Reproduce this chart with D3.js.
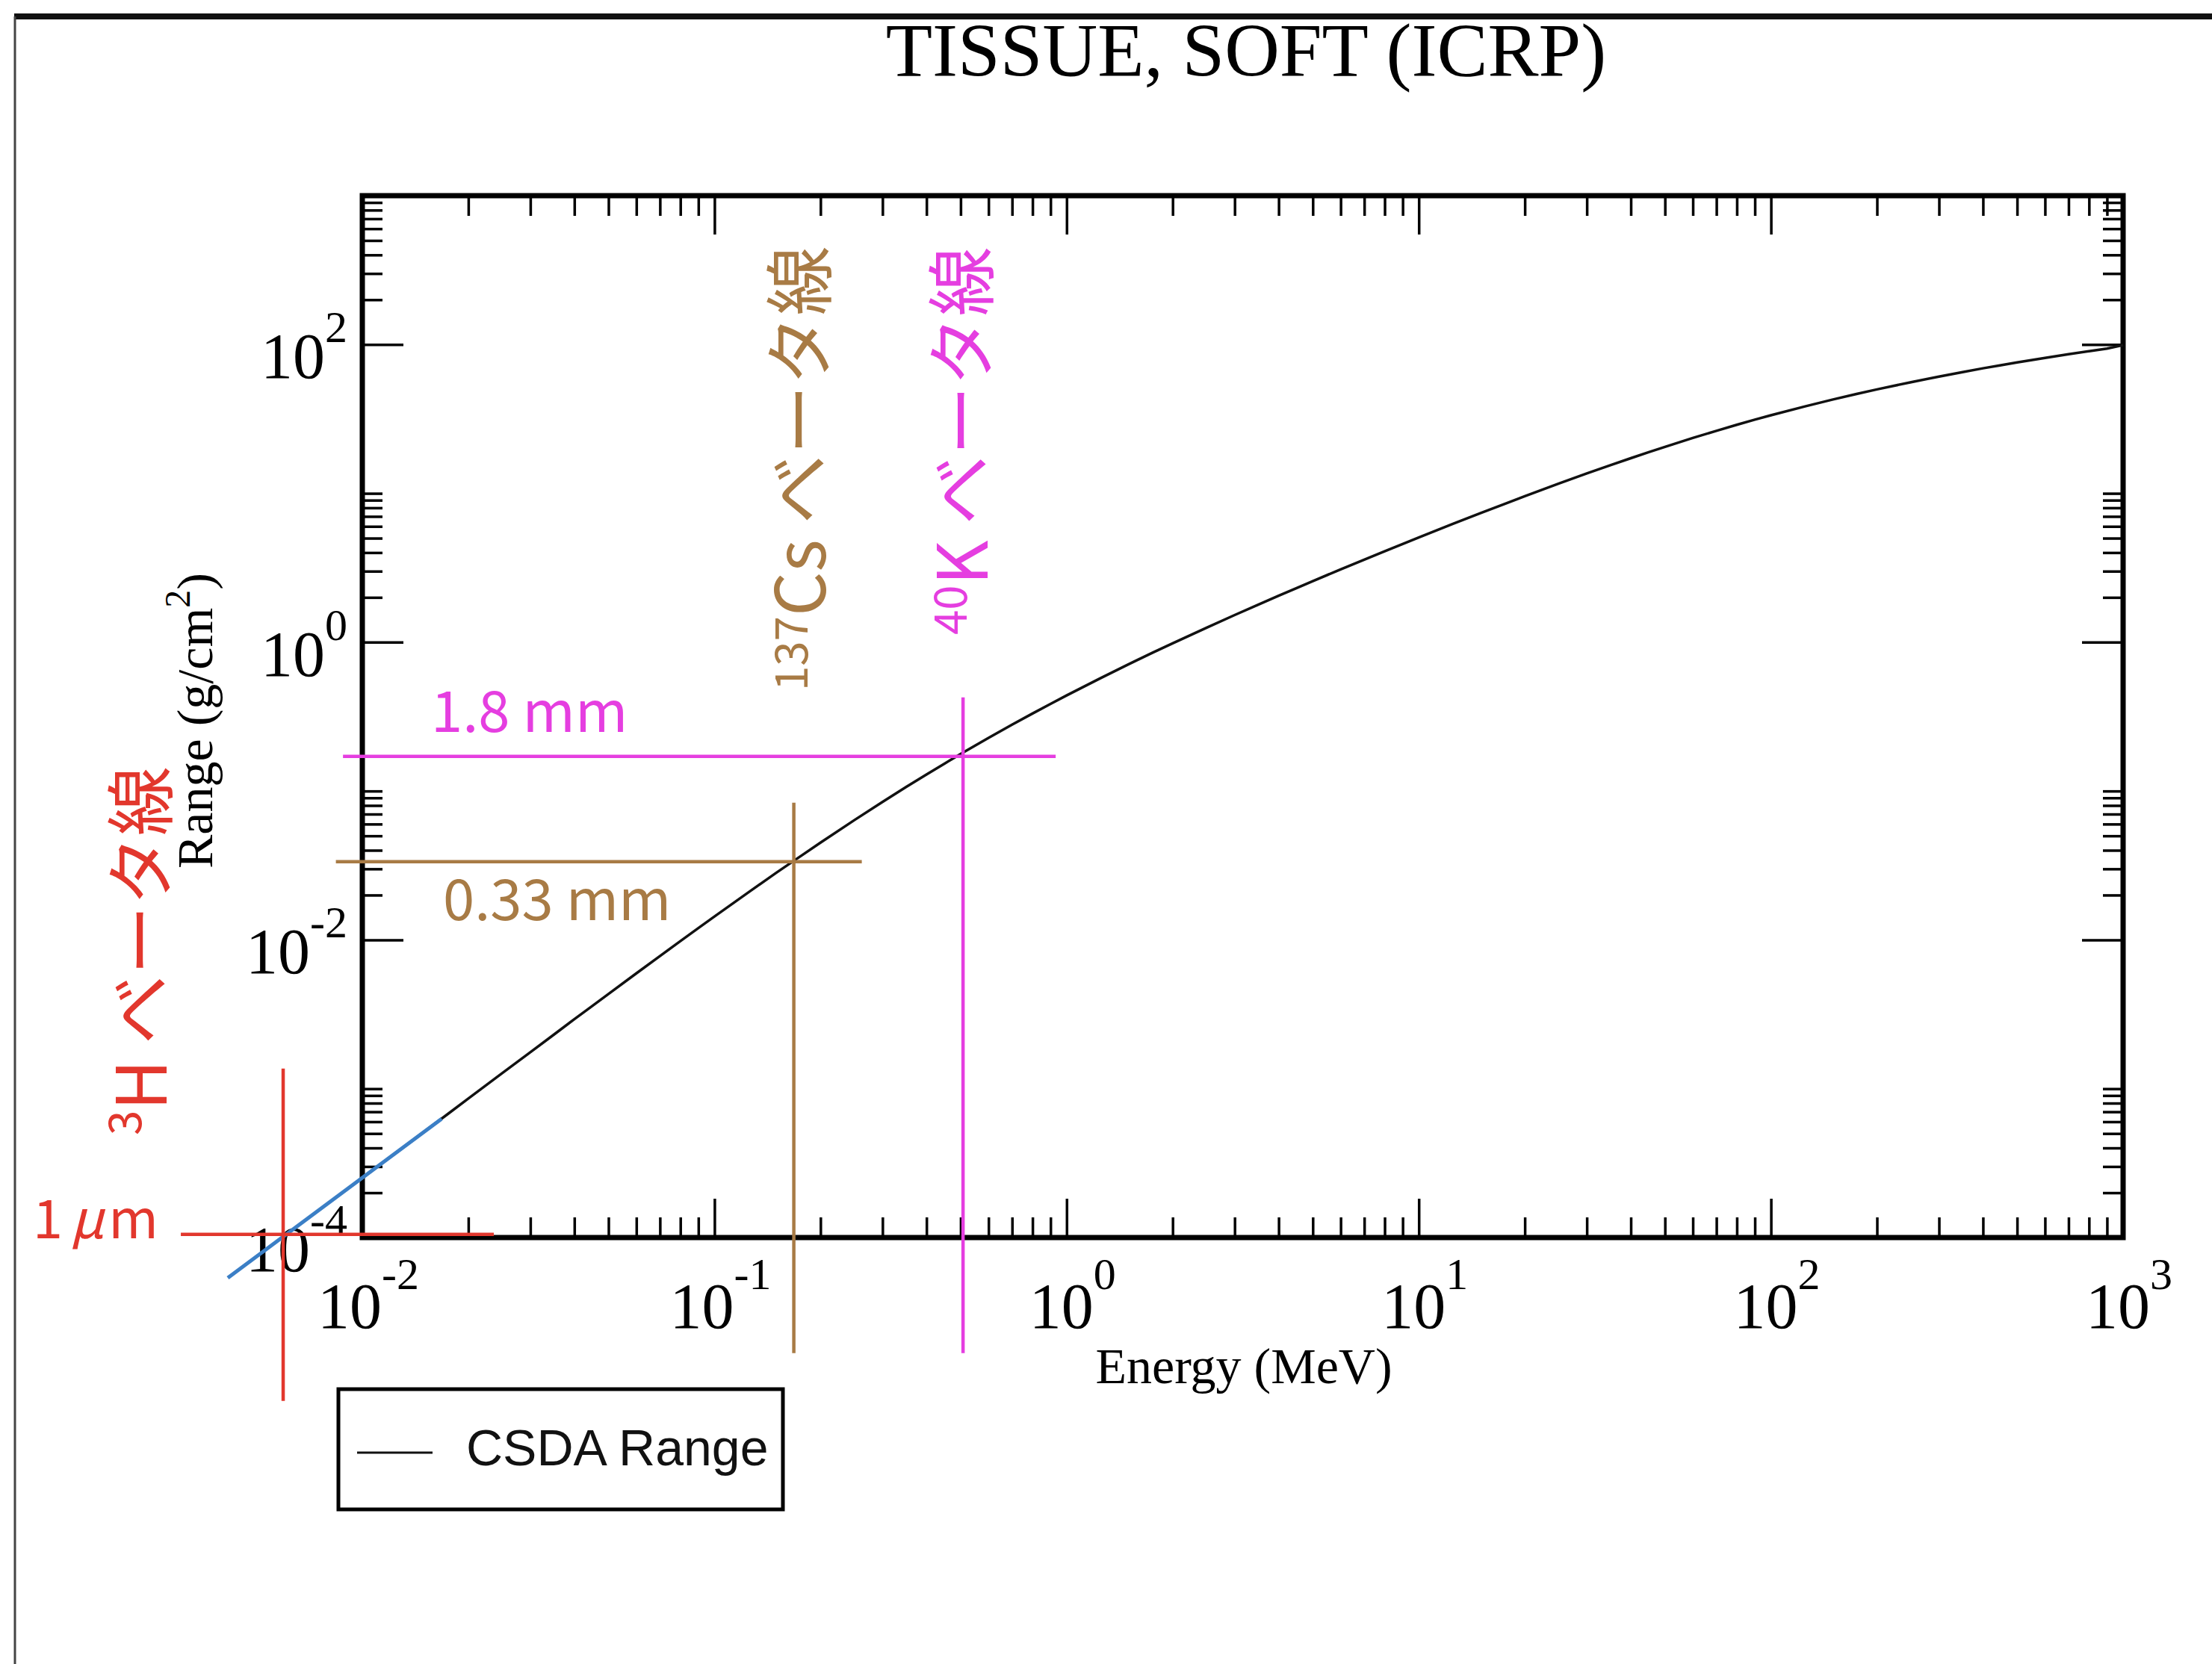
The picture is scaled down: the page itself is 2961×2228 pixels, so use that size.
<!DOCTYPE html>
<html>
<head>
<meta charset="utf-8">
<script src="https://cdn.jsdelivr.net/npm/d3@7"></script>
<style>
  body { margin: 0; background: #fff; }
  svg { display: block; }
</style>
</head>
<body>
<svg width="2961" height="2228"></svg>
<script>
// CSDA range of electrons in soft tissue (ICRP)
var energy = [0.01, 0.0125, 0.015, 0.0175, 0.02, 0.025, 0.03, 0.035, 0.04, 0.045, 0.05,
  0.06, 0.07, 0.08, 0.09, 0.1, 0.125, 0.15, 0.175, 0.2, 0.25, 0.3, 0.35, 0.4, 0.45, 0.5,
  0.6, 0.7, 0.8, 0.9, 1, 1.25, 1.5, 1.75, 2, 2.5, 3, 3.5, 4, 4.5, 5,
  6, 7, 8, 9, 10, 12.5, 15, 17.5, 20, 25, 30, 35, 40, 45, 50,
  60, 70, 80, 90, 100, 125, 150, 175, 200, 250, 300, 350, 400, 450, 500,
  600, 700, 800, 900, 1000];
var csdaRange = [2.52e-4, 3.73e-4, 5.15e-4, 6.77e-4, 8.59e-4, 1.276e-3, 1.76e-3, 2.31e-3, 2.93e-3, 3.60e-3, 4.33e-3,
  5.96e-3, 7.79e-3, 9.80e-3, 1.20e-2, 1.435e-2, 2.09e-2, 2.83e-2, 3.63e-2, 4.50e-2, 6.39e-2, 8.45e-2, 0.1064, 0.1293, 0.1529, 0.1773,
  0.2275, 0.2790, 0.3317, 0.3850, 0.4388, 0.5745, 0.7110, 0.8474, 0.9834, 1.253, 1.522, 1.787, 2.051, 2.313, 2.572,
  3.085, 3.587, 4.083, 4.573, 5.055, 6.235, 7.378, 8.488, 9.568, 11.64, 13.60, 15.46, 17.23, 18.92, 20.53,
  23.55, 26.32, 28.88, 31.26, 33.48, 38.42, 42.73, 46.54, 49.95, 55.87, 60.92, 65.31, 69.20, 72.67, 75.82,
  81.33, 86.04, 90.15, 93.79, 99.0];

// hand-drawn extrapolation below 10 keV (blue)
var extEnergy = [0.00415, 0.0168];
var extRange = [5.36e-5, 6.28e-4];

// beta-ray markers: nuclide, energy (MeV), range (g/cm2), range label
var markerNuclide = ["3H", "137Cs", "40K"];
var markerEnergy = [0.00596, 0.168, 0.508];
var markerRange = [1.05e-4, 0.0335, 0.171];
var markerLabel = ["1\u03bcm", "0.33 mm", "1.8 mm"];

// tick labels (powers of ten)
var xExponents = ["-2", "-1", "0", "1", "2", "3"];
var yExponents = ["-4", "-2", "0", "2"];

var svg = d3.select("svg");
var pLeft = 485, pRight = 2842, pTop = 262, pBottom = 1657;

var x = d3.scaleLog().domain([1e-2, 1e3]).range([pLeft, pRight]);
var y = d3.scaleLog().domain([1e-4, 1e3]).range([pBottom, pTop]);

// outer frame of the figure
svg.append("line").attr("x1", 19).attr("x2", 2961).attr("y1", 22).attr("y2", 22)
  .attr("stroke", "#111").attr("stroke-width", 8);
svg.append("line").attr("x1", 20).attr("x2", 20).attr("y1", 22).attr("y2", 2228)
  .attr("stroke", "#444").attr("stroke-width", 3);

// title
svg.append("text").attr("x", 1668).attr("y", 102).attr("text-anchor", "middle")
  .style("font-family", "Liberation Serif").style("font-size", "102px")
  .text("TISSUE, SOFT (ICRP)");

// ticks
var xMajor = xExponents.map(function(e){ return Math.pow(10, +e) });
var xMinor = [];
d3.range(-2, 3).forEach(function(d){
  d3.range(2, 10).forEach(function(k){ xMinor.push(k * Math.pow(10, d)) });
});
var yMajor = yExponents.map(function(e){ return Math.pow(10, +e) });
var yMinor = [];
yMajor.forEach(function(v){
  d3.range(2, 11).forEach(function(k){ yMinor.push(k * v) });
});

function styleAxis(g) {
  g.select(".domain").remove();
  g.selectAll(".tick line").attr("stroke", "#000").attr("stroke-width", 3.5);
}

svg.append("g").attr("transform", "translate(0," + pBottom + ")")
  .call(d3.axisBottom(x).tickValues(xMajor).tickSize(-52).tickFormat(""))
  .call(styleAxis);
svg.append("g").attr("transform", "translate(0," + pBottom + ")")
  .call(d3.axisBottom(x).tickValues(xMinor).tickSize(-27).tickFormat(""))
  .call(styleAxis);
svg.append("g").attr("transform", "translate(0," + pTop + ")")
  .call(d3.axisTop(x).tickValues(xMajor).tickSize(-52).tickFormat(""))
  .call(styleAxis);
svg.append("g").attr("transform", "translate(0," + pTop + ")")
  .call(d3.axisTop(x).tickValues(xMinor).tickSize(-27).tickFormat(""))
  .call(styleAxis);
svg.append("g").attr("transform", "translate(" + pLeft + ",0)")
  .call(d3.axisLeft(y).tickValues(yMajor).tickSize(-55).tickFormat(""))
  .call(styleAxis);
svg.append("g").attr("transform", "translate(" + pLeft + ",0)")
  .call(d3.axisLeft(y).tickValues(yMinor).tickSize(-27).tickFormat(""))
  .call(styleAxis);
svg.append("g").attr("transform", "translate(" + pRight + ",0)")
  .call(d3.axisRight(y).tickValues(yMajor).tickSize(-55).tickFormat(""))
  .call(styleAxis);
svg.append("g").attr("transform", "translate(" + pRight + ",0)")
  .call(d3.axisRight(y).tickValues(yMinor).tickSize(-27).tickFormat(""))
  .call(styleAxis);

// plot frame
svg.append("rect").attr("x", pLeft).attr("y", pTop)
  .attr("width", pRight - pLeft).attr("height", pBottom - pTop)
  .attr("fill", "none").attr("stroke", "#000").attr("stroke-width", 7);

// tick labels 10^n
function pow10(t, e, rise) {
  t.append("tspan").text("10");
  t.append("tspan").style("font-size", "60px").attr("dy", -rise).text(e);
}
svg.append("g").selectAll("text").data(xExponents).enter().append("text")
  .attr("x", function(d){ return x(Math.pow(10, +d)) + 8 })
  .attr("y", pBottom + 121)
  .attr("text-anchor", "middle")
  .style("font-family", "Liberation Serif").style("font-size", "86px")
  .each(function(d){ pow10(d3.select(this), d, 52) });
svg.append("g").selectAll("text").data(yExponents).enter().append("text")
  .attr("x", pLeft - 20)
  .attr("y", function(d){ return y(Math.pow(10, +d)) + 45 })
  .attr("text-anchor", "end")
  .style("font-family", "Liberation Serif").style("font-size", "86px")
  .each(function(d){ pow10(d3.select(this), d, 48) });

// axis titles
svg.append("text").attr("x", 1665).attr("y", 1852).attr("text-anchor", "middle")
  .style("font-family", "Liberation Serif").style("font-size", "68px")
  .text("Energy (MeV)");
var yt = svg.append("text").attr("transform", "translate(284,965) rotate(-90)")
  .attr("text-anchor", "middle")
  .style("font-family", "Liberation Serif").style("font-size", "68px");
yt.append("tspan").text("Range (g/cm");
yt.append("tspan").style("font-size", "48px").attr("dy", -30).text("2");
yt.append("tspan").attr("dy", 30).text(")");

// CSDA curve
var pts = energy.map(function(e, i){ return [e, csdaRange[i]] });
var line = d3.line().x(function(d){ return x(d[0]) }).y(function(d){ return y(d[1]) });
svg.append("path").datum(pts).attr("d", line)
  .attr("fill", "none").attr("stroke", "#111").attr("stroke-width", 3.5);

// blue extrapolation
svg.append("path").datum(extEnergy.map(function(e, i){ return [e, extRange[i]] }))
  .attr("d", line).attr("fill", "none").attr("stroke", "#3b7fc6").attr("stroke-width", 5);

// marker cross-hairs and labels
var colors = ["#e2372d", "#a87b45", "#e53ee0"];
var hExt = [[-137, 282], [-613, 91], [-830, 124]];
var vExt = [[-222, 223], [-79, 658], [-79, 799]];
var cjk = "'Noto Sans CJK JP', 'Noto Sans'";

markerNuclide.forEach(function(n, i){
  var cx = x(markerEnergy[i]), cy = y(markerRange[i]);
  svg.append("line").attr("x1", cx + hExt[i][0]).attr("x2", cx + hExt[i][1])
    .attr("y1", cy).attr("y2", cy)
    .attr("stroke", colors[i]).attr("stroke-width", 4.5);
  svg.append("line").attr("x1", cx).attr("x2", cx)
    .attr("y1", cy + vExt[i][0]).attr("y2", cy + vExt[i][1])
    .attr("stroke", colors[i]).attr("stroke-width", 4.5);
});

// range labels
var labelPos = [[44, 1658], [593, 1232], [577, 980]];
markerLabel.forEach(function(t, i){
  var txt = svg.append("text").attr("x", labelPos[i][0]).attr("y", labelPos[i][1])
    .attr("fill", colors[i])
    .style("font-family", cjk).style("font-size", "76px");
  if (t.indexOf("\u03bc") >= 0) {
    txt.style("font-size", "72px");
    txt.append("tspan").text(t.slice(0, 1));
    txt.append("tspan").attr("dx", 10).style("font-style", "italic").text("\u03bc");
    txt.append("tspan").attr("dx", 6).text(t.slice(2));
  } else {
    txt.text(t);
  }
});

// rotated nuclide labels
var nucPos = [[223, 1520], [x(markerEnergy[1]) + 42, 925], [x(markerEnergy[2]) + 33, 850]];
var nucRise = [34, 24, 28];
markerNuclide.forEach(function(n, i){
  var m = n.match(/^(\d+)(\D+)$/);
  var t = svg.append("text")
    .attr("transform", "translate(" + nucPos[i][0] + "," + nucPos[i][1] + ") rotate(-90)")
    .attr("fill", colors[i])
    .style("font-family", cjk).style("font-size", "93px");
  t.append("tspan").style("font-size", "60px").attr("dy", -nucRise[i]).text(m[1]);
  t.append("tspan").attr("dy", nucRise[i]).text(m[2]);
  t.append("tspan").text(" ベータ線");
});

// legend
svg.append("rect").attr("x", 453).attr("y", 1860).attr("width", 595).attr("height", 161)
  .attr("fill", "#fff").attr("stroke", "#000").attr("stroke-width", 5);
svg.append("line").attr("x1", 478).attr("x2", 579).attr("y1", 1945).attr("y2", 1945)
  .attr("stroke", "#111").attr("stroke-width", 3);
svg.append("text").attr("x", 624).attr("y", 1962)
  .style("font-family", "Liberation Sans").style("font-size", "68px")
  .attr("fill", "#111")
  .text("CSDA Range");
</script>
</body>
</html>
